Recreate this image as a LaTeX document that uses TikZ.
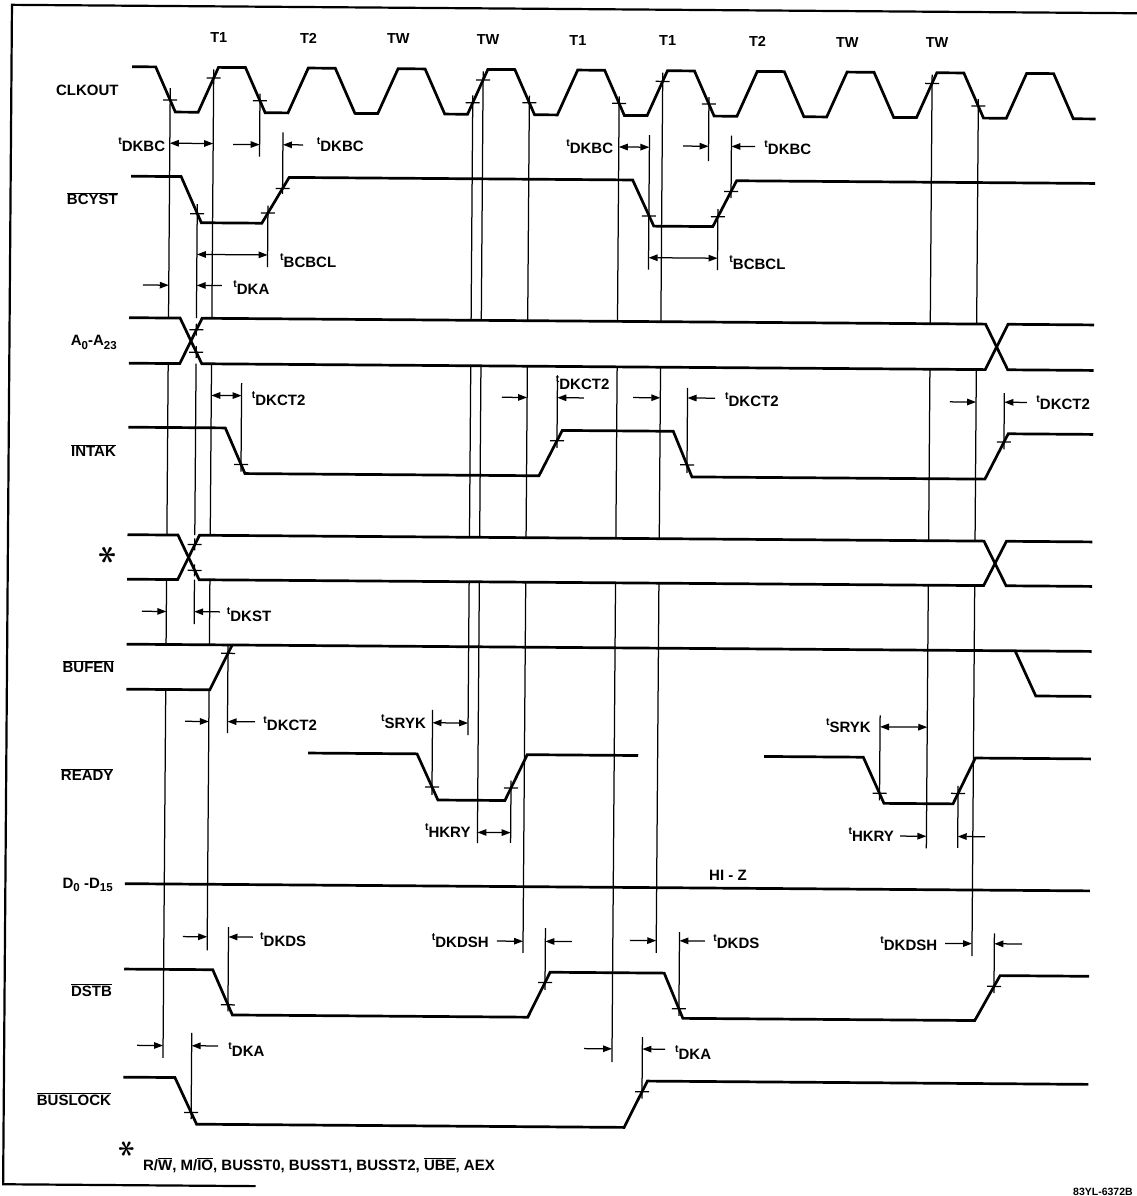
\documentclass[tikz,border=0pt]{standalone}
\usepackage{fontspec}
\setmainfont{Liberation Sans}
\usetikzlibrary{arrows.meta}
\newcommand\tlab[1]{\raisebox{7pt}{\fontsize{10.5}{10.5}\selectfont t}#1}
\newcommand\ovl[1]{$\overline{\mbox{#1}}$}
\newcommand\sub[1]{\raisebox{-3.5pt}{\fontsize{11.5}{11.5}\selectfont #1}}
% vertical reference line with gaps in the A and * buses
\newcommand\vgap[3]{\draw[refl] (#1,#2) -- (#1,321) (#1,366.5) -- (#1,538) (#1,582.5) -- (#1,#3);}
% same, with a gap in BUFEN as well
\newcommand\vgapb[3]{\draw[refl] (#1,#2) -- (#1,321) (#1,366.5) -- (#1,538) (#1,582.5) -- (#1,647.5) (#1,692.5) -- (#1,#3);}
\newcommand\tk[2]{\draw[tickl] ({#1-7},#2) -- ({#1+7},#2);}
\newcommand\tkp[2]{\draw[tickl] ({#1-7},#2) -- ({#1+7},#2) (#1,{#2-6}) -- (#1,{#2+6});}
\begin{document}
\begin{tikzpicture}[x=1pt,y=-1pt,
  sig/.style={line width=2.7pt},
  refl/.style={line width=1.25pt},
  tickl/.style={line width=1.25pt},
  dimline/.style={line width=1.25pt},
  da/.style={dimline,{Triangle[length=9pt,width=6.5pt]}-{Triangle[length=9pt,width=6.5pt]}},
  ra/.style={dimline,-{Triangle[length=9pt,width=6.5pt]}},
  lbl/.style={font=\bfseries\fontsize{15}{15}\selectfont, inner sep=0pt},
  sname/.style={font=\bfseries\fontsize{15}{15}\selectfont, inner sep=0pt, anchor=base east},
  tname/.style={font=\bfseries\fontsize{14.5}{14.5}\selectfont, inner sep=0pt},
]
\useasboundingbox (0,0) rectangle (1137,1196);
\begin{scope}[rotate around={-0.43:(570,600)}]
% border
\draw[line width=2.2pt] (1145,9) -- (7.5,9) -- (7.5,1188.5) -- (260,1188.5);

% cycle labels
\node[tname] (ca) at (214.5,40) {T1};
\node[tname] (cb) at (304.3,40) {T2};
\node[tname] (cc) at (394.1,40) {TW};
\node[tname] (cd) at (483.9,40) {TW};
\node[tname] (ce) at (573.7,40) {T1};
\node[tname] (cf) at (663.5,40) {T1};
\node[tname] (cg) at (753.3,40) {T2};
\node[tname] (ch) at (843.1,40) {TW};
\node[tname] (ci) at (932.9,40) {TW};

% signal names
\node[sname] (nclk) at (115,99) {CLKOUT};
\node[sname] (nbcy) at (115,208) {\ovl{BCYST}};
\node[sname] (nadr) at (115,349) {A\sub{0}-A\sub{23}};
\node[sname] (nint) at (115,460) {\ovl{INTAK}};
\node[inner sep=0pt] (nstar) at (107.3,559) {\rotatebox{90}{\scalebox{3.6}{\boldmath$\ast$}}};
\node[sname] (nbuf) at (115,676) {\ovl{BUFEN}};
\node[sname] (nrdy) at (115,784) {\ovl{READY}};
\node[sname] (ndat) at (115,891.5) {D\sub{0} -D\sub{15}};
\node[sname] (ndst) at (115,999.5) {\ovl{DSTB}};
\node[sname] (nbus) at (115,1109) {\ovl{BUSLOCK}};

% CLKOUT
\draw[sig] (128,70) foreach \k in {0,...,9} { -- ({151.7+89.8*\k},70) -- ({171.7+89.8*\k},115) -- ({194.5+89.8*\k},115) -- ({214.5+89.8*\k},70) } -- (1049.7,70) -- (1069.7,115) -- (1092,115);
% BCYST
\draw[sig] (128,179.5) -- (178,179.5) -- (198.5,225.5) -- (259,225.5) -- (286,179.5) -- (629.5,179.5) -- (651,225.5) -- (710,225.5) -- (733.5,179.5) -- (1092,179.5);
% A0-A23
\draw[sig] (127,321) -- (178,321) -- (200,366.5) -- (983.5,366.5) -- (1006,321) -- (1092,321);
\draw[sig] (127,366.5) -- (178,366.5) -- (200,321) -- (983.5,321) -- (1006,366.5) -- (1092,366.5);
% INTAK
\draw[sig] (127,430.5) -- (224,430.5) -- (244,476) -- (538,476) -- (561,430.5) -- (672,430.5) -- (691,476) -- (984,476) -- (1007,430.5) -- (1092,430.5);
% *
\draw[sig] (127,538) -- (177.5,538) -- (199,582.5) -- (983.5,582.5) -- (1006,538) -- (1092,538);
\draw[sig] (127,582.5) -- (177.5,582.5) -- (199,538) -- (983.5,538) -- (1006,582.5) -- (1092,582.5);
% BUFEN
\draw[sig] (127,647.5) -- (1092,647.5);
\draw[sig] (127,692.5) -- (210.5,692.5) -- (232.5,647.5);
\draw[sig] (1015.5,647.5) -- (1036.5,692.5) -- (1092,692.5);
% READY
\draw[sig] (309.2,755) -- (418.2,755) -- (439.4,801) -- (506.4,801) -- (528.4,755) -- (639.4,755);
\draw[sig] (765.2,755) -- (864.5,755) -- (885.5,801) -- (954.5,801) -- (976.5,755) -- (1092,755);
% D0-D15
\draw[sig] (127,887) -- (1092,887);
\node[lbl] (hiz) at (730,873.8) {HI - Z};
% DSTB
\draw[sig] (127,972.4) -- (215.5,972.4) -- (235.5,1017.5) -- (530.9,1017.5) -- (552.9,972.4) -- (667,972.4) -- (686,1017.5) -- (977.9,1017.5) -- (1002.9,972.4) -- (1092,972.4);
% BUSLOCK
\draw[sig] (127,1080.5) -- (178.5,1080.5) -- (200.5,1127) -- (628,1127) -- (651,1080.5) -- (1092,1080.5);

% long reference lines
\vgapb{166.4}{91}{1061}
\vgap{194.3}{207}{627}
\vgapb{209.75}{72}{953}
\vgap{469}{96}{736}
\vgap{479.2}{72}{843.7}
\vgap{525.6}{96}{953.3}
\vgap{615.4}{96}{1061.7}
\vgap{658.8}{72}{952.3}
\vgap{928.2}{72}{845.6}
\vgap{974.6}{96}{953.1}
% short reference lines
\draw[refl] (256.2,96) -- (256.2,159);
\draw[refl] (279.5,134.6) -- (279.5,196);
\draw[refl] (265,208) -- (265,269.5);
\draw[refl] (240,385.5) -- (240,474);
\draw[refl] (228.4,648) -- (228.4,735.6);
\draw[refl] (231,929.6) -- (231,1014);
\draw[refl] (195,1035.8) -- (195,1122);
\draw[refl] (555.8,380) -- (555.8,448);
\draw[refl] (705.2,96) -- (705.2,160);
\draw[refl] (728,134.5) -- (728,197);
\draw[refl] (646,134.4) -- (646,269);
\draw[refl] (715,208) -- (715,268.9);
\draw[refl] (686,387) -- (686,472);
\draw[refl] (433.4,711) -- (433.4,796);
\draw[refl] (512.4,781) -- (512.4,843.4);
\draw[refl] (547.9,928.2) -- (547.9,990);
\draw[refl] (682,931.2) -- (682,1015);
\draw[refl] (645.7,1036.5) -- (645.7,1098);
\draw[refl] (1002.8,389.8) -- (1002.8,446);
\draw[refl] (881,713) -- (881,798);
\draw[refl] (959.5,783) -- (959.5,845);
\draw[refl] (996.9,930.1) -- (996.9,990);

% tick marks
\tk{166.4}{103} \tk{209.75}{80.7} \tk{256.2}{103} \tk{469}{103.5} \tk{479.2}{80.7}
\tk{525.6}{103} \tk{615.4}{103} \tk{658.8}{80.7} \tk{705.2}{103} \tk{928.2}{80.7} \tk{974.6}{103}
\tk{194.3}{216.5} \tk{265}{215.3} \tk{279.5}{190.6} \tk{646}{215.4} \tk{715}{215.7} \tk{728}{190.3}
\tkp{194.3}{355} \tkp{194.3}{332.5} \tkp{194.3}{573.2} \tkp{194.3}{547.3}
\tk{240}{466.9} \tk{555.8}{440.8} \tk{686}{464} \tk{1002.8}{438.8}
\tk{228.4}{655.9}
\tk{433.4}{788} \tk{512.4}{788.5} \tk{881}{791} \tk{959.5}{790.5}
\tk{231}{1007.4} \tk{547.9}{982.7} \tk{682}{1008} \tk{996.9}{983.2}
\tk{195}{1115.4} \tk{645.7}{1091.2}

% timing arrows
\draw[da] (166.4,146.2) -- (209.75,146.2);
\draw[ra] (229.6,146.9) -- (256.2,146.9);
\draw[ra] (299.6,146.9) -- (279.5,146.9);
\draw[da] (194.3,257.2) -- (265,257.2);
\draw[ra] (140.6,288.2) -- (166.4,288.2);
\draw[ra] (219.6,288.2) -- (194.3,288.2);
\draw[da] (209.75,398.1) -- (240,398.1);
\draw[ra] (142,614.5) -- (166.4,614.5);
\draw[ra] (220,614.5) -- (194.3,614.5);
\draw[ra] (185.9,724.2) -- (209.75,724.2);
\draw[ra] (255.9,724.2) -- (228.4,724.2);
\draw[ra] (185.5,939.5) -- (209.75,939.5);
\draw[ra] (255.5,939.5) -- (231,939.5);
\draw[ra] (140.4,1048.6) -- (166.4,1048.6);
\draw[ra] (221.4,1048.6) -- (195,1048.6);
\draw[da] (615.4,146.6) -- (646,146.6);
\draw[ra] (679.6,145.2) -- (705.2,145.2);
\draw[ra] (751.6,145.2) -- (728,145.2);
\draw[da] (646,257.1) -- (715,257.1);
\draw[ra] (500.4,397.8) -- (525.6,397.8);
\draw[ra] (582.4,397.8) -- (555.8,397.8);
\draw[ra] (631.5,397.1) -- (658.8,397.1);
\draw[ra] (713.5,397.1) -- (686,397.1);
\draw[ra] (948.5,399) -- (974.6,399);
\draw[ra] (1025.5,399) -- (1002.8,399);
\draw[da] (433.4,723.8) -- (469,723.8);
\draw[da] (479.2,833.1) -- (512.4,833.1);
\draw[ra] (499.5,941.6) -- (525.6,941.6);
\draw[ra] (574.5,941.6) -- (547.9,941.6);
\draw[ra] (632.5,940) -- (658.8,940);
\draw[ra] (707.5,940) -- (682,940);
\draw[ra] (587.4,1048.5) -- (615.4,1048.5);
\draw[ra] (668.4,1048.5) -- (645.7,1048.5);
\draw[da] (881,724.5) -- (928.2,724.5);
\draw[ra] (901.8,833.6) -- (928.2,833.6);
\draw[ra] (986.8,833.6) -- (959.5,833.6);
\draw[ra] (947.6,940.6) -- (974.6,940.6);
\draw[ra] (1024.6,940.6) -- (996.9,940.6);

% timing labels
\node[lbl,anchor=base east] (la) at (162,155) {\tlab{DKBC}};
\node[lbl,anchor=base west] (lb) at (313.3,153.3) {\tlab{DKBC}};
\node[lbl,anchor=base west] (lc) at (277.5,270) {\tlab{BCBCL}};
\node[lbl,anchor=base west] (ld) at (230.9,297) {\tlab{DKA}};
\node[lbl,anchor=base west] (le) at (250.2,407.8) {\tlab{DKCT2}};
\node[lbl,anchor=base west] (lf) at (226.8,623.8) {\tlab{DKST}};
\node[lbl,anchor=base west] (lg) at (264.2,733) {\tlab{DKCT2}};
\node[lbl,anchor=base west] (lh) at (262.6,948.5) {\tlab{DKDS}};
\node[lbl,anchor=base west] (li) at (231.7,1058.7) {\tlab{DKA}};
\node[lbl,anchor=base east] (lj) at (610,152.8) {\tlab{DKBC}};
\node[lbl,anchor=base west] (lk) at (760.9,153.1) {\tlab{DKBC}};
\node[lbl,anchor=base west] (ll) at (726.8,268.7) {\tlab{BCBCL}};
\node[lbl,anchor=base west] (lm) at (554.1,389.7) {\tlab{DKCT2}};
\node[lbl,anchor=base west] (ln) at (723.5,405) {\tlab{DKCT2}};
\node[lbl,anchor=base west] (lo) at (1034.8,406.4) {\tlab{DKCT2}};
\node[lbl,anchor=base east] (lp) at (427,729.5) {\tlab{SRYK}};
\node[lbl,anchor=base east] (lq) at (472.5,838.7) {\tlab{HKRY}};
\node[lbl,anchor=base east] (lr) at (491.5,948) {\tlab{DKDSH}};
\node[lbl,anchor=base west] (ls) at (715.8,947.6) {\tlab{DKDS}};
\node[lbl,anchor=base west] (lt) at (678.4,1058.4) {\tlab{DKA}};
\node[lbl,anchor=base east] (lu) at (872,730.7) {\tlab{SRYK}};
\node[lbl,anchor=base east] (lv) at (896,839.3) {\tlab{HKRY}};
\node[lbl,anchor=base east] (lw) at (940,947.7) {\tlab{DKDSH}};

% footnote
\node[inner sep=0pt] (fstar) at (131,1152) {\rotatebox{90}{\scalebox{3.3}{\boldmath$\ast$}}};
\node[lbl,anchor=base west] (fnote) at (147.2,1173.6) {R/\ovl{W}, M/\ovl{IO}, BUSST0, BUSST1, BUSST2, \ovl{UBE}, AEX};
\node[font=\bfseries\fontsize{10.5}{10.5}\selectfont, inner sep=0pt] (code) at (1107.4,1188) {83YL-6372B};
\end{scope}
\end{tikzpicture}
\end{document}
